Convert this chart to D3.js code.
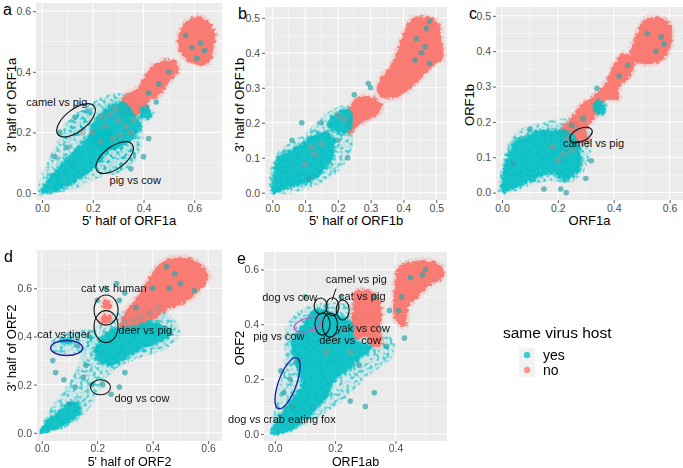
<!DOCTYPE html>
<html>
<head>
<meta charset="utf-8">
<script src="https://cdn.jsdelivr.net/npm/d3@7"></script>
<style>
  body { margin: 0; background: #fff; }
  svg { font-family: "Liberation Sans", Arial, sans-serif; }
</style>
</head>
<body>
<svg id="chart" width="683" height="468"></svg>
<script>
// ---- colours / legend ----
const hostLevels = ['yes', 'no'];
const hostColors = ['#00BFC4', '#F8766D'];

// ---- tick labels ----
const ticks02 = [0, 0.2, 0.4, 0.6];
const ticks01 = [0, 0.1, 0.2, 0.3, 0.4, 0.5];
const ticksE = [0, 0.2, 0.4];

// ---- panel a : 5' vs 3' half of ORF1a ----
const aNoBlobs = [
  [[0.573,0.570],[0.626,0.581],[0.679,0.537],[0.679,0.493],[0.653,0.427],[0.600,0.427],[0.560,0.445],[0.534,0.504]],
  [[0.521,0.438],[0.540,0.405],[0.494,0.361],[0.481,0.339],[0.454,0.317],[0.421,0.306],[0.415,0.273],[0.375,0.257],[0.322,0.257],[0.302,0.273],[0.315,0.306],[0.335,0.328],[0.375,0.345],[0.401,0.383],[0.441,0.422],[0.481,0.438]]
];
const aYesBlobs = [
  [[-0.005,0.0],[0.05,0.005],[0.1,0.025],[0.15,0.05],[0.2,0.08],[0.24,0.12],[0.27,0.16],[0.28,0.2],[0.24,0.21],[0.19,0.19],[0.14,0.15],[0.09,0.11],[0.05,0.07],[0.02,0.04]],
  [[0.2,0.17],[0.26,0.14],[0.32,0.16],[0.37,0.19],[0.39,0.23],[0.36,0.26],[0.32,0.30],[0.27,0.29],[0.22,0.25],[0.19,0.21]],
  [[0.39,0.25],[0.42,0.245],[0.435,0.265],[0.415,0.285],[0.39,0.28]]
];
const aYesHaze = [
  [[0.07,0.18],[0.12,0.18],[0.19,0.22],[0.20,0.27],[0.15,0.27],[0.09,0.23]],
  [[0.22,0.07],[0.28,0.06],[0.36,0.10],[0.36,0.15],[0.3,0.16],[0.24,0.13]],
  [[-0.01,0.0],[0.15,0.02],[0.22,0.05],[0.3,0.07],[0.38,0.12],[0.4,0.2],[0.38,0.3],[0.3,0.33],[0.2,0.3],[0.1,0.22],[0.03,0.12],[-0.01,0.04]]
];
const aYesPts = [[0.59,0.48],[0.625,0.495],[0.61,0.445],[0.565,0.52],[0.64,0.47],[0.50,0.40],[0.46,0.36],[0.42,0.33],
  [0.05,0.12],[0.1,0.15],[0.07,0.2],[0.4,0.12],[0.42,0.18],[0.35,0.08],[0.18,0.27],[0.13,0.25],[0.45,0.30]];
const aNoPts = [[0.2,0.2],[0.25,0.22],[0.28,0.18],[0.3,0.24],[0.33,0.22],[0.23,0.17],[0.16,0.2],[0.35,0.2],[0.27,0.26],
  [0.31,0.19],[0.24,0.25],[0.36,0.24],[0.29,0.28]];

// ---- panel b : 5' vs 3' half of ORF1b ----
const bNoBlobs = [
  [[0.426,0.499],[0.466,0.503],[0.507,0.484],[0.517,0.427],[0.522,0.389],[0.487,0.360],[0.426,0.303],[0.375,0.270],[0.334,0.274],[0.319,0.293],[0.334,0.331],[0.365,0.370],[0.385,0.417],[0.405,0.465]],
  [[0.258,0.270],[0.303,0.274],[0.334,0.255],[0.324,0.227],[0.263,0.193],[0.232,0.165],[0.227,0.198],[0.237,0.246]]
];
const bYesBlobs = [
  [[0,0],[0.059,0.017],[0.110,0.029],[0.151,0.055],[0.181,0.093],[0.191,0.141],[0.181,0.165],[0.151,0.174],[0.110,0.155],[0.059,0.122],[0.018,0.103],[0.006,0.065],[0,0.027]],
  [[0.181,0.217],[0.212,0.236],[0.237,0.236],[0.242,0.189],[0.222,0.170],[0.191,0.174],[0.171,0.189]]
];
const bYesHaze = [
  [[0.0,0.0],[0.1,0.01],[0.2,0.06],[0.24,0.12],[0.25,0.2],[0.23,0.25],[0.17,0.23],[0.1,0.17],[0.02,0.12],[-0.01,0.05]]
];
const bYesPts = [[0.436,0.379],[0.466,0.417],[0.455,0.40],[0.48,0.37],[0.44,0.44],[0.293,0.312],[0.30,0.30],[0.48,0.49],[0.47,0.47],
  [0.09,0.2],[0.15,0.2],[0.23,0.1],[0.25,0.28],[0.06,0.15],[0.11,0.04],[0.2,0.15]];
const bNoPts = [[0.12,0.13],[0.15,0.14],[0.10,0.08],[0.13,0.11],[0.2,0.22],[0.22,0.21]];

// ---- panel c : ORF1a vs ORF1b ----
const cNoBlobs = [
  [[0.516,0.492],[0.576,0.492],[0.606,0.469],[0.600,0.403],[0.564,0.370],[0.492,0.365],[0.457,0.384],[0.474,0.431],[0.492,0.469]],
  [[0.433,0.394],[0.474,0.370],[0.457,0.328],[0.421,0.299],[0.415,0.262],[0.373,0.262],[0.349,0.234],[0.325,0.205],[0.301,0.177],[0.313,0.149],[0.229,0.149],[0.206,0.168],[0.241,0.205],[0.277,0.243],[0.325,0.271],[0.361,0.299],[0.397,0.356]]
];
const cYesBlobs = [
  [[-0.004,0.003],[0.062,0.017],[0.134,0.045],[0.182,0.055],[0.218,0.036],[0.253,0.045],[0.277,0.064],[0.283,0.111],[0.259,0.158],[0.218,0.177],[0.170,0.177],[0.110,0.172],[0.086,0.158],[0.050,0.149],[0.014,0.092],[0.002,0.045]],
  [[0.33,0.23],[0.36,0.22],[0.37,0.245],[0.35,0.26],[0.33,0.255]]
];
const cYesHaze = [
  [[0,0],[0.15,0.03],[0.25,0.03],[0.3,0.07],[0.32,0.13],[0.3,0.2],[0.25,0.21],[0.15,0.2],[0.05,0.17],[0.0,0.08]]
];
const cYesPts = [[0.52,0.45],[0.57,0.44],[0.55,0.40],[0.58,0.42],[0.34,0.295],[0.42,0.33],[0.45,0.36],[0.29,0.21],[0.25,0.19],
  [0.21,0.01],[0.23,0.0],[0.04,0.08],[0.1,0.18],[0.3,0.04],[0.32,0.09],[0.15,0.01]];
const cNoPts = [[0.22,0.11],[0.2,0.09],[0.25,0.12],[0.18,0.13],[0.27,0.18],[0.23,0.15]];

// ---- panel d : 5' vs 3' half of ORF2 ----
const dNoBlobs = [
  [[0.426,0.703],[0.498,0.731],[0.571,0.703],[0.601,0.648],[0.571,0.593],[0.511,0.538],[0.450,0.510],[0.402,0.469],[0.354,0.428],[0.306,0.414],[0.282,0.441],[0.306,0.510],[0.354,0.579],[0.390,0.648]],
  [[0.22,0.52],[0.245,0.515],[0.25,0.54],[0.235,0.55],[0.22,0.545]],
  [[0.21,0.46],[0.24,0.455],[0.255,0.475],[0.24,0.49],[0.215,0.485]]
];
const dYesBlobs = [
  [[-0.005,0.0],[0.05,0.015],[0.11,0.05],[0.14,0.09],[0.13,0.13],[0.09,0.12],[0.05,0.08],[0.01,0.04]],
  [[0.20,0.30],[0.26,0.28],[0.33,0.33],[0.41,0.37],[0.47,0.42],[0.40,0.46],[0.32,0.44],[0.25,0.43],[0.21,0.39],[0.19,0.34]],
  [[0.07,0.375],[0.1,0.37],[0.115,0.385],[0.09,0.395],[0.07,0.39]]
];
const dYesHaze = [
  [[0,0],[0.1,0.03],[0.17,0.1],[0.22,0.2],[0.26,0.26],[0.35,0.31],[0.45,0.35],[0.5,0.42],[0.45,0.5],[0.35,0.52],[0.28,0.5],[0.2,0.45],[0.15,0.35],[0.12,0.25],[0.07,0.16],[0.02,0.08]],
  [[0.03,0.34],[0.12,0.33],[0.18,0.36],[0.2,0.42],[0.1,0.42],[0.04,0.39]]
];
const dYesPts = [[0.46,0.6],[0.5,0.62],[0.48,0.66],[0.55,0.59],[0.45,0.69],[0.4,0.6],[0.34,0.52],[0.3,0.58],[0.27,0.62],[0.28,0.55],
  [0.05,0.25],[0.08,0.22],[0.12,0.19],[0.15,0.23],[0.18,0.2],[0.22,0.2],[0.25,0.16],[0.28,0.19],[0.3,0.25],[0.04,0.3],[0.16,0.28],[0.2,0.55],[0.23,0.6],[0.17,0.4],[0.13,0.36],[0.1,0.12]];
const dNoPts = [[0.33,0.47],[0.36,0.48],[0.39,0.5],[0.42,0.52],[0.3,0.46]];

// ---- panel e : ORF1ab vs ORF2 ----
const eNoBlobs = [
  [[0.410,0.610],[0.499,0.634],[0.554,0.610],[0.560,0.574],[0.521,0.549],[0.477,0.501],[0.443,0.464],[0.432,0.391],[0.399,0.416],[0.394,0.501],[0.399,0.561]],
  [[0.266,0.519],[0.310,0.525],[0.344,0.501],[0.355,0.452],[0.349,0.379],[0.355,0.324],[0.322,0.318],[0.299,0.355],[0.271,0.343],[0.255,0.403],[0.260,0.464]]
];
const eYesBlobs = [
  [[-0.011,0.002],[0.055,0.015],[0.111,0.063],[0.166,0.124],[0.200,0.197],[0.244,0.233],[0.288,0.282],[0.322,0.318],[0.266,0.343],[0.255,0.403],[0.200,0.440],[0.133,0.452],[0.089,0.391],[0.055,0.330],[0.067,0.258],[0.089,0.185],[0.044,0.112],[0,0.039]]
];
const eYesHaze = [
  [[0,0],[0.2,0.1],[0.3,0.2],[0.4,0.3],[0.38,0.36],[0.3,0.45],[0.2,0.48],[0.1,0.46],[0.04,0.4],[0.03,0.25],[0.0,0.1]]
];
const eYesPts = [[0.41,0.45],[0.42,0.5],[0.45,0.57],[0.49,0.58],[0.5,0.6],[0.43,0.35],[0.37,0.32],[0.33,0.5],[0.38,0.45],
  [0.03,0.15],[0.05,0.2],[0.06,0.1],[0.02,0.23],[0.08,0.27],[0.3,0.1],[0.33,0.15],[0.25,0.12],[0.28,0.25],[0.1,0.5],[0.22,0.5]];
const eNoPts = [[0.2,0.35],[0.23,0.38],[0.17,0.3],[0.13,0.38],[0.25,0.3]];

// ---- annotations (data coords for centre / text anchor) ----
const aNotes = [
  { cx: 0.134, cy: 0.240, rx: 23, ry: 11, rot: -38 },
  { cx: 0.286, cy: 0.117, rx: 22, ry: 11, rot: -37 },
  { x: -0.062, y: 0.286, text: 'camel vs pig' },
  { x: 0.266, y: 0.031, text: 'pig vs cow' }
];
const cNotes = [
  { cx: 0.283, cy: 0.163, rx: 12, ry: 6.5, rot: -25 },
  { x: 0.218, y: 0.130, text: 'camel vs pig' }
];
const dNotes = [
  { cx: 0.232, cy: 0.510, rx: 12, ry: 15, rot: 0 },
  { cx: 0.232, cy: 0.441, rx: 12, ry: 16, rot: 0 },
  { cx: 0.090, cy: 0.352, rx: 16, ry: 7.5, rot: 0, color: '#1f1f9e' },
  { cx: 0.212, cy: 0.189, rx: 10, ry: 7.5, rot: 0 },
  { x: 0.142, y: 0.586, text: 'cat vs human' },
  { x: 0.276, y: 0.411, text: 'deer vs pig' },
  { x: -0.016, y: 0.393, text: 'cat vs tiger' },
  { x: 0.262, y: 0.128, text: 'dog vs cow' }
];
const eNotes = [
  { cx: 0.152, cy: 0.467, rx: 6.5, ry: 8, rot: 0 },
  { cx: 0.191, cy: 0.464, rx: 6.5, ry: 9, rot: 0 },
  { cx: 0.225, cy: 0.452, rx: 6.5, ry: 10, rot: 0 },
  { cx: 0.109, cy: 0.399, rx: 14, ry: 6.5, rot: -15, color: '#c35bc3' },
  { cx: 0.158, cy: 0.401, rx: 7.5, ry: 11, rot: 0 },
  { cx: 0.183, cy: 0.397, rx: 7.5, ry: 12, rot: 0 },
  { cx: 0.042, cy: 0.185, rx: 9, ry: 27, rot: 20, color: '#1f1f9e' },
  { line: [[0.203, 0.530], [0.190, 0.488]] },
  { x: 0.169, y: 0.552, text: 'camel vs pig' },
  { x: -0.042, y: 0.486, text: 'dog vs cow' },
  { x: 0.213, y: 0.488, text: 'cat vs pig' },
  { x: 0.203, y: 0.373, text: 'yak vs cow' },
  { x: -0.072, y: 0.343, text: 'pig vs cow' },
  { x: 0.147, y: 0.327, text: 'deer vs  cow' },
  { x: -0.155, y: 0.041, text: 'dog vs crab eating fox' }
];

const panels = [
  { tag: 'a', box: [36, 222, 3, 200], xd: [-0.0237, 0.709], yd: [-0.023, 0.627], xt: ticks02, yt: ticks02,
    xlab: "5' half of ORF1a", ylab: "3' half of ORF1a", xly: 225, xls: 13, pad: 2, ylx: 16, yly: 105,
    no: aNoBlobs, yes: aYesBlobs, haze: aYesHaze, yesPts: aYesPts, noPts: aNoPts, notes: aNotes },
  { tag: 'b', box: [265, 447, 7, 200], xd: [-0.0223, 0.533], yd: [-0.021, 0.531], xt: ticks01, yt: ticks01,
    xlab: "5' half of ORF1b", ylab: "3' half of ORF1b", xly: 225, xls: 13, pad: 2, ylx: 244, yly: 105,
    no: bNoBlobs, yes: bYesBlobs, haze: bYesHaze, yesPts: bYesPts, noPts: bNoPts, notes: [] },
  { tag: 'c', box: [496, 683, 7, 200], xd: [-0.0215, 0.648], yd: [-0.021, 0.525], xt: ticks02, yt: ticks01,
    xlab: 'ORF1a', ylab: 'ORF1b', xly: 225, xls: 13, pad: 2, ylx: 474, yly: 105,
    no: cNoBlobs, yes: cYesBlobs, haze: cYesHaze, yesPts: cYesPts, noPts: cNoPts, notes: cNotes },
  { tag: 'd', box: [37, 222, 250, 441], xd: [-0.017, 0.65], yd: [-0.034, 0.759], xt: ticks02, yt: ticks02,
    xlab: "5' half of ORF2", ylab: "3' half of ORF2", xly: 465.5, xls: 12.5, pad: 1, ylx: 16, yly: 348,
    no: dNoBlobs, yes: dYesBlobs, haze: dYesHaze, yesPts: dYesPts, noPts: dNoPts, notes: dNotes },
  { tag: 'e', box: [264, 447, 252, 441], xd: [-0.036, 0.571], yd: [-0.026, 0.664], xt: ticksE, yt: ticks02,
    xlab: 'ORF1ab', ylab: 'ORF2', xly: 465.5, xls: 12.5, pad: 1, ylx: 244, yly: 348,
    no: eNoBlobs, yes: eYesBlobs, haze: eYesHaze, yesPts: eYesPts, noPts: eNoPts, notes: eNotes }
];

const svg = d3.select('#chart');
const defs = svg.append('defs');

// rough, grainy edge for the dense point clouds
const rough = defs.append('filter').attr('id', 'rough')
  .attr('x', '-10%').attr('y', '-10%').attr('width', '120%').attr('height', '120%');
rough.append('feTurbulence').attr('type', 'fractalNoise').attr('baseFrequency', 0.3)
  .attr('numOctaves', 2).attr('seed', 7).attr('result', 'noise');
rough.append('feDisplacementMap').attr('in', 'SourceGraphic').attr('in2', 'noise')
  .attr('scale', 6).attr('xChannelSelector', 'R').attr('yChannelSelector', 'G');

// speckled look for the sparse clouds
const speck = defs.append('filter').attr('id', 'speck')
  .attr('x', '-10%').attr('y', '-10%').attr('width', '120%').attr('height', '120%');
speck.append('feTurbulence').attr('type', 'fractalNoise').attr('baseFrequency', 0.3)
  .attr('numOctaves', 1).attr('seed', 3).attr('result', 'noise');
speck.append('feColorMatrix').attr('in', 'noise').attr('type', 'matrix')
  .attr('values', '0 0 0 0 0  0 0 0 0 0  0 0 0 0 0  6 0 0 0 -2.9').attr('result', 'mask');
speck.append('feComposite').attr('in', 'SourceGraphic').attr('in2', 'mask').attr('operator', 'in');

const fmt = d3.format('.1f');

panels.forEach((p, i) => {
  const [l, r, t, b] = p.box;
  const x = d3.scaleLinear().domain(p.xd).range([l, r]);
  const y = d3.scaleLinear().domain(p.yd).range([b, t]);
  const g = svg.append('g');

  g.append('rect').attr('x', l).attr('y', t).attr('width', r - l).attr('height', b - t).attr('fill', '#EBEBEB');

  // grid: minor halfway between majors, then majors
  const minor = tk => tk.slice(0, -1).map((v, k) => (v + tk[k + 1]) / 2)
    .concat([tk[tk.length - 1] + (tk[1] - tk[0]) / 2]);
  const grid = g.append('g').attr('stroke', '#fff');
  minor(p.xt).filter(v => v < p.xd[1]).forEach(v => grid.append('line').attr('x1', x(v)).attr('x2', x(v)).attr('y1', t).attr('y2', b).attr('stroke-width', 0.5));
  minor(p.yt).filter(v => v < p.yd[1]).forEach(v => grid.append('line').attr('y1', y(v)).attr('y2', y(v)).attr('x1', l).attr('x2', r).attr('stroke-width', 0.5));
  p.xt.forEach(v => grid.append('line').attr('x1', x(v)).attr('x2', x(v)).attr('y1', t).attr('y2', b).attr('stroke-width', 1));
  p.yt.forEach(v => grid.append('line').attr('y1', y(v)).attr('y2', y(v)).attr('x1', l).attr('x2', r).attr('stroke-width', 1));

  defs.append('clipPath').attr('id', 'clip' + i)
    .append('rect').attr('x', l).attr('y', t).attr('width', r - l).attr('height', b - t);
  const plot = g.append('g').attr('clip-path', `url(#clip${i})`);

  const blob = d3.line().x(d => x(d[0])).y(d => y(d[1])).curve(d3.curveCatmullRomClosed.alpha(0.5));

  // sparse "yes" haze: faint wash plus speckles
  plot.append('g').attr('filter', 'url(#rough)').selectAll('path').data(p.haze).join('path')
    .attr('d', blob).attr('fill', hostColors[0]).attr('opacity', 0.1);
  plot.append('g').attr('filter', 'url(#speck)')
    .selectAll('path').data(p.haze).join('path')
    .attr('d', blob).attr('fill', hostColors[0]).attr('opacity', 0.6);

  // dense "no" clouds
  const noG = plot.append('g').attr('filter', 'url(#rough)');
  noG.selectAll('path.halo').data(p.no).join('path').attr('class', 'halo')
    .attr('d', blob).attr('fill', hostColors[1]).attr('opacity', 0.45)
    .attr('stroke', hostColors[1]).attr('stroke-width', 5).attr('stroke-opacity', 0.45);
  noG.selectAll('path.core').data(p.no).join('path').attr('class', 'core')
    .attr('d', blob).attr('fill', hostColors[1]).attr('opacity', 0.9);

  // dense "yes" clouds
  const yesG = plot.append('g').attr('filter', 'url(#rough)');
  yesG.selectAll('path').data(p.yes).join('path')
    .attr('d', blob).attr('fill', hostColors[0]).attr('opacity', 0.9)
    .attr('stroke', hostColors[0]).attr('stroke-width', 3).attr('stroke-opacity', 0.45);

  // individual points
  plot.append('g').selectAll('circle').data(p.yesPts).join('circle')
    .attr('cx', d => x(d[0])).attr('cy', d => y(d[1])).attr('r', 2.8)
    .attr('fill', '#2fa4a8').attr('opacity', 0.7);
  plot.append('g').selectAll('circle').data(p.noPts).join('circle')
    .attr('cx', d => x(d[0])).attr('cy', d => y(d[1])).attr('r', 3.2)
    .attr('fill', '#9a9490').attr('opacity', 0.5);

  // axes
  const xAxis = g.append('g').attr('transform', `translate(0,${b})`)
    .call(d3.axisBottom(x).tickValues(p.xt).tickSize(3).tickPadding(p.pad).tickFormat(fmt));
  const yAxis = g.append('g').attr('transform', `translate(${l},0)`)
    .call(d3.axisLeft(y).tickValues(p.yt).tickSize(3).tickPadding(2).tickFormat(fmt));
  [xAxis, yAxis].forEach(ax => {
    ax.select('.domain').remove();
    ax.selectAll('line').attr('stroke', '#333').attr('stroke-width', 0.8);
    ax.selectAll('text').attr('fill', '#4D4D4D').attr('font-size', 10.5)
      .attr('font-family', '"Liberation Sans", Arial, sans-serif');
  });

  g.append('text').attr('x', (l + r) / 2).attr('y', p.xly).attr('text-anchor', 'middle')
    .attr('font-size', p.xls).attr('fill', '#000').text(p.xlab);
  g.append('text').attr('transform', `translate(${p.ylx},${p.yly}) rotate(-90)`).attr('text-anchor', 'middle')
    .attr('font-size', 13).attr('fill', '#000').text(p.ylab);
  g.append('text').attr('x', l - (i % 3 === 0 ? 33 : 27)).attr('y', t + 12)
    .attr('font-size', 16).attr('fill', '#000').text(p.tag);

  // annotations
  const ng = g.append('g');
  p.notes.forEach(n => {
    if (n.text) {
      ng.append('text').attr('x', x(n.x)).attr('y', y(n.y)).attr('font-size', 11)
        .attr('fill', '#111').style('white-space', 'pre').text(n.text);
    } else if (n.line) {
      ng.append('path').attr('d', d3.line().x(d => x(d[0])).y(d => y(d[1])).curve(d3.curveBasis)(n.line))
        .attr('fill', 'none').attr('stroke', '#111').attr('stroke-width', 1);
    } else {
      ng.append('ellipse').attr('transform', `translate(${x(n.cx)},${y(n.cy)}) rotate(${n.rot})`)
        .attr('rx', n.rx).attr('ry', n.ry).attr('fill', 'none')
        .attr('stroke', n.color || '#111').attr('stroke-width', n.color ? 1.4 : 1.1);
    }
  });
});

// legend
const lg = svg.append('g');
lg.append('text').attr('x', 503).attr('y', 338).attr('font-size', 15.5).attr('fill', '#000').text('same virus host');
hostLevels.forEach((lev, k) => {
  const cy = 355 + k * 15;
  lg.append('rect').attr('x', 519).attr('y', cy - 7.5).attr('width', 16).attr('height', 15).attr('fill', '#F2F2F2');
  lg.append('circle').attr('cx', 527).attr('cy', cy).attr('r', 3.2).attr('fill', hostColors[k]).attr('opacity', 0.75);
  lg.append('text').attr('x', 543).attr('y', cy + 5).attr('font-size', 14).attr('fill', '#000').text(lev);
});
</script>
</body>
</html>
